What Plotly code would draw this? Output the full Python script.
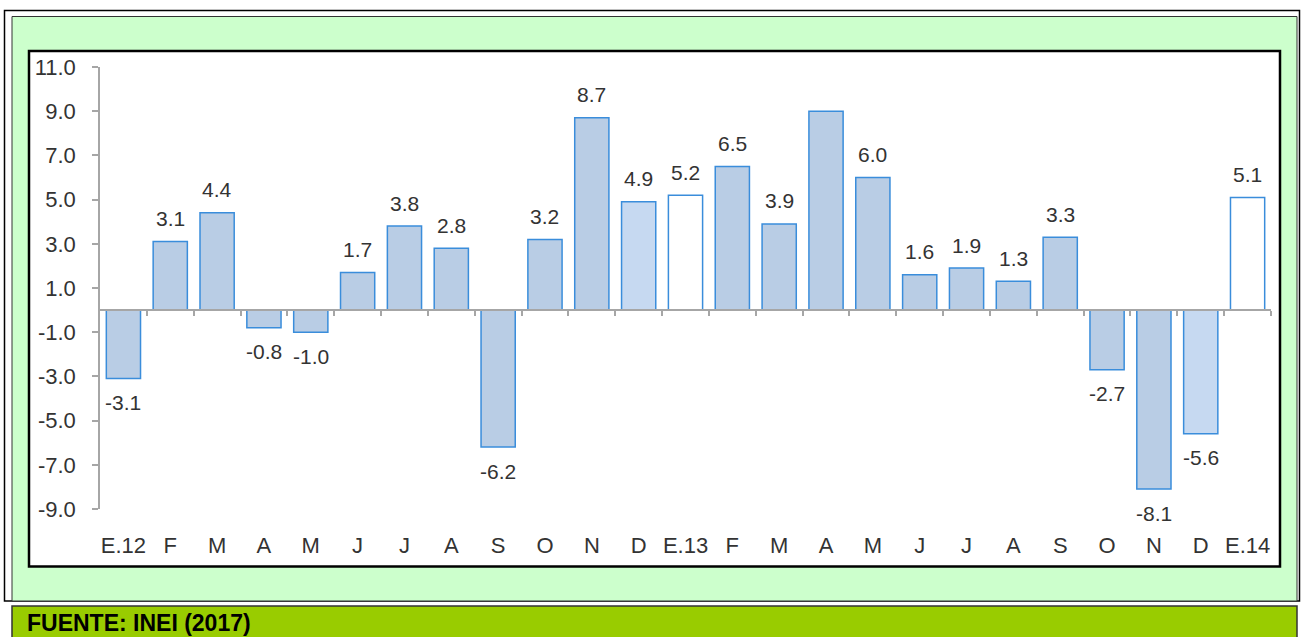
import plotly.graph_objects as go

# ---------------- data ----------------
month_labels = ["E.12", "F", "M", "A", "M", "J", "J", "A", "S", "O", "N", "D",
                "E.13", "F", "M", "A", "M", "J", "J", "A", "S", "O", "N", "D", "E.14"]
values = [-3.1, 3.1, 4.4, -0.8, -1.0, 1.7, 3.8, 2.8, -6.2, 3.2, 8.7, 4.9,
          5.2, 6.5, 3.9, 9.0, 6.0, 1.6, 1.9, 1.3, 3.3, -2.7, -8.1, -5.6, 5.1]
value_labels = ["-3.1", "3.1", "4.4", "-0.8", "-1.0", "1.7", "3.8", "2.8", "-6.2", "3.2", "8.7", "4.9",
                "5.2", "6.5", "3.9", "", "6.0", "1.6", "1.9", "1.3", "3.3", "-2.7", "-8.1", "-5.6", "5.1"]
y_ticks = [-9.0, -7.0, -5.0, -3.0, -1.0, 1.0, 3.0, 5.0, 7.0, 9.0, 11.0]
source_text = "FUENTE: INEI (2017)"

# ---------------- style ----------------
W, H = 1305, 637
L, R, T, B = 100, 34, 67, 128
PW, PH = W - L - R, H - T - B
Y_MIN, Y_MAX = -9.0, 11.0

BAR_FILL = "#b9cde5"
BAR_FILL_LIGHT = "#c6d9f1"
BAR_FILL_WHITE = "#ffffff"
BAR_EDGE = "#3a8ddb"
TEXT_COLOR = "#333333"
AXIS_GRAY = "#a6a6a6"
FONT = "Liberation Sans, Arial, sans-serif"

# fill style per bar position (December bars lighter, new-year bars E.13/E.14 white)
LIGHT_BARS = {11, 23}
WHITE_BARS = {12, 24}


def fill_for(i):
    if i in WHITE_BARS:
        return BAR_FILL_WHITE
    if i in LIGHT_BARS:
        return BAR_FILL_LIGHT
    return BAR_FILL


def pxx(x):
    return (x - L) / PW


def pxy(y):
    return (H - B - y) / PH


idx = list(range(len(values)))
colors = [fill_for(i) for i in idx]

fig = go.Figure()
fig.add_trace(go.Bar(
    x=idx, y=values,
    marker=dict(color=colors, line=dict(color=BAR_EDGE, width=1.5)),
    width=0.73,
    hoverinfo="skip",
    showlegend=False,
))

# data labels
for i, (v, t) in enumerate(zip(values, value_labels)):
    if not t:
        continue
    fig.add_annotation(
        x=i, y=v, xref="x", yref="y", text=t, showarrow=False,
        yanchor="middle", yshift=23 if v >= 0 else -24,
        font=dict(family=FONT, size=21, color=TEXT_COLOR),
    )

# decorative frames (paper coordinates from pixel layout)
shapes = [
    dict(type="rect", xref="paper", yref="paper", layer="below",
         x0=pxx(4.5), x1=pxx(1299.5), y0=pxy(601), y1=pxy(10.5),
         line=dict(color="#000000", width=1.5), fillcolor="#ffffff"),
    dict(type="rect", xref="paper", yref="paper", layer="below",
         x0=pxx(12), x1=pxx(1297), y0=pxy(601), y1=pxy(16.5),
         line=dict(color="#333333", width=1), fillcolor="#ccffcc"),
    dict(type="rect", xref="paper", yref="paper", layer="below",
         x0=pxx(29), x1=pxx(1280), y0=pxy(566.5), y1=pxy(51),
         line=dict(color="#000000", width=2.5), fillcolor="#ffffff"),
    dict(type="rect", xref="paper", yref="paper", layer="below",
         x0=pxx(12), x1=pxx(1297), y0=pxy(645), y1=pxy(606),
         line=dict(color="#333333", width=1.5), fillcolor="#99cc00"),
]

fig.add_annotation(
    xref="paper", yref="paper", x=pxx(25), y=pxy(623),
    xanchor="left", yanchor="middle", showarrow=False,
    text="<b>" + source_text + "</b>",
    font=dict(family="Liberation Sans, Arial, sans-serif", size=23, color="#000000"),
)

zero_pos = (0 - Y_MIN) / (Y_MAX - Y_MIN)

fig.update_layout(
    width=W, height=H,
    margin=dict(l=L, r=R, t=T, b=B, autoexpand=False),
    paper_bgcolor="#ffffff",
    plot_bgcolor="#ffffff",
    bargap=0.27,
    shapes=shapes,
    font=dict(family=FONT, color=TEXT_COLOR),
    xaxis=dict(
        range=[-0.5, len(values) - 0.5],
        tickmode="array", tickvals=idx, ticktext=month_labels,
        showline=False, showgrid=False, zeroline=False, ticks="",
        ticklabelstandoff=21,
        tickfont=dict(family=FONT, size=22, color=TEXT_COLOR),
        automargin=False, fixedrange=True,
    ),
    xaxis2=dict(
        overlaying="x", anchor="free", position=zero_pos, side="bottom",
        range=[-0.5, len(values) - 0.5],
        tickmode="array", tickvals=[i + 0.5 for i in idx],
        showticklabels=False, ticks="outside", ticklen=5, tickwidth=1.5, tickcolor=AXIS_GRAY,
        showline=True, linecolor=AXIS_GRAY, linewidth=1.5,
        showgrid=False, zeroline=False, automargin=False,
    ),
    yaxis=dict(
        range=[Y_MIN, Y_MAX],
        tickmode="array", tickvals=y_ticks, ticktext=[f"{v:.1f}" for v in y_ticks],
        showline=True, linecolor=AXIS_GRAY, linewidth=1.5,
        ticks="outside", ticklen=6, tickwidth=1.5, tickcolor=AXIS_GRAY,
        ticklabelstandoff=12,
        showgrid=False, zeroline=False,
        tickfont=dict(family=FONT, size=22, color=TEXT_COLOR),
        automargin=False, fixedrange=True,
    ),
)

# invisible trace to activate xaxis2
fig.add_trace(go.Scatter(x=[0], y=[0], xaxis="x2", yaxis="y", mode="markers",
                         marker=dict(opacity=0), hoverinfo="skip", showlegend=False))

fig.write_html(
    "out.html",
    config={"displayModeBar": False},
    post_script="document.body.style.margin='0';document.body.style.overflow='hidden';",
)
